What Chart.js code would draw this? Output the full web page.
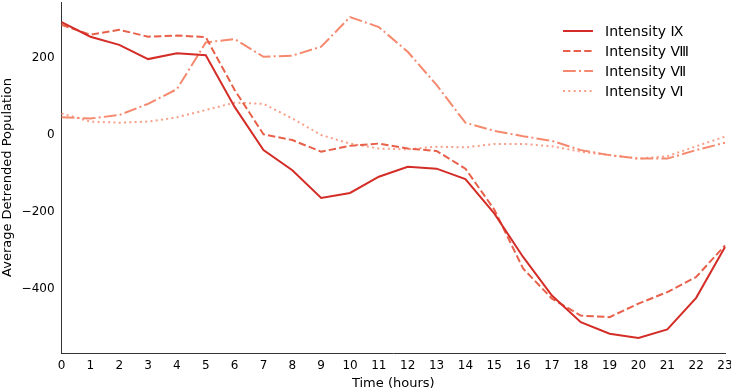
<!DOCTYPE html>
<html>
<head>
<meta charset="utf-8">
<script src="https://cdn.jsdelivr.net/npm/chart.js@4"></script>
<style>
  html, body { margin: 0; padding: 0; background: #fff; overflow: hidden; }
  #popChart { display: block; }
</style>
</head>
<body>
<canvas id="popChart" width="731" height="391"></canvas>
<script>
const hours = ["0","1","2","3","4","5","6","7","8","9","10","11","12","13","14","15","16","17","18","19","20","21","22","23"];
const seriesNames = ["Intensity \u2168", "Intensity \u2167", "Intensity \u2166", "Intensity \u2165"];

const intensityIX = [293, 255, 234, 197, 212, 207, 73, -39, -91, -163, -150, -108, -82, -87, -114, -203, -316, -416, -485, -515, -526, -504, -422, -290];
const intensityVIII = [286, 260, 273, 255, 258, 254, 117, 2, -13, -43, -28, -22, -35, -41, -87, -193, -346, -424, -468, -472, -437, -407, -368, -286];
const intensityVII = [46, 43, 52, 81, 119, 240, 249, 203, 206, 229, 306, 280, 216, 130, 32, 11, -3, -15, -39, -52, -61, -61, -39, -20];
const intensityVI = [56, 35, 32, 35, 46, 65, 84, 81, 43, 0, -22, -35, -37, -30, -32, -23, -23, -29, -43, -52, -61, -55, -29, -4];

const yTicks = [-400, -200, 0, 200];

const ctx = document.getElementById("popChart").getContext("2d");

// matplotlib-like legend box in the upper right
const lineLegend = {
    id: "lineLegend",
    afterDraw(chart) {
        const c = chart.ctx;
        const x0 = 563, y0 = 31, gap = 20;
        c.save();
        c.font = "14px 'DejaVu Sans'";
        c.textBaseline = "middle";
        chart.data.datasets.forEach((ds, i) => {
            const y = y0 + i * gap;
            c.strokeStyle = ds.borderColor;
            c.lineWidth = ds.borderWidth;
            c.setLineDash(ds.borderDash || []);
            c.beginPath();
            c.moveTo(x0, y);
            c.lineTo(x0 + 30, y);
            c.stroke();
            c.setLineDash([]);
            c.fillStyle = "#000";
            c.fillText(ds.label, x0 + 42, y + 1);
        });
        c.restore();
    }
};

new Chart(ctx, {
    type: "line",
    data: {
        labels: hours,
        datasets: [
            { label: seriesNames[0], data: intensityIX, borderColor: "#d42d27", borderWidth: 2, borderDash: [] },
            { label: seriesNames[1], data: intensityVIII, borderColor: "#e9604a", borderWidth: 2, borderDash: [7.4, 3.2] },
            { label: seriesNames[2], data: intensityVII, borderColor: "#f5896e", borderWidth: 2, borderDash: [12.8, 3.2, 2, 3.2] },
            { label: seriesNames[3], data: intensityVI, borderColor: "#f99f88", borderWidth: 2, borderDash: [2, 3.3] }
        ]
    },
    options: {
        responsive: false,
        animation: false,
        layout: { padding: { left: 0, right: 6, top: 2, bottom: 0 } },
        elements: { point: { radius: 0 }, line: { tension: 0, fill: false } },
        plugins: { legend: { display: false }, tooltip: { enabled: false } },
        scales: {
            x: {
                type: "category",
                offset: false,
                afterFit(scale) { scale.paddingLeft = 0; scale.paddingRight = 0; },
                grid: { display: false, drawOnChartArea: false, drawTicks: true, tickLength: 4, tickColor: "#000" },
                border: { display: true, color: "#333", width: 1 },
                ticks: { color: "#000", font: { family: "'DejaVu Sans'", size: 12 }, maxRotation: 0, autoSkip: false, padding: 2 },
                title: { display: true, text: "Time (hours)", color: "#000", font: { family: "'DejaVu Sans'", size: 13 }, padding: { top: 0, bottom: 0 } }
            },
            y: {
                min: -565,
                max: 345,
                afterBuildTicks(axis) {
                    axis.ticks = yTicks.map(v => ({ value: v }));
                },
                afterFit(scale) { scale.paddingTop = 0; scale.paddingBottom = 0; },
                grid: { display: false, drawOnChartArea: false, drawTicks: true, tickLength: 4, tickColor: "#000" },
                border: { display: true, color: "#333", width: 1 },
                ticks: { color: "#000", font: { family: "'DejaVu Sans'", size: 12 }, padding: 3,
                    callback: v => (v < 0 ? "\u2212" + Math.abs(v) : String(v)) },
                title: { display: true, text: "Average Detrended Population", color: "#000", font: { family: "'DejaVu Sans'", size: 13 }, padding: { top: 0, bottom: 3 } }
            }
        }
    },
    plugins: [lineLegend]
});
</script>
</body>
</html>
